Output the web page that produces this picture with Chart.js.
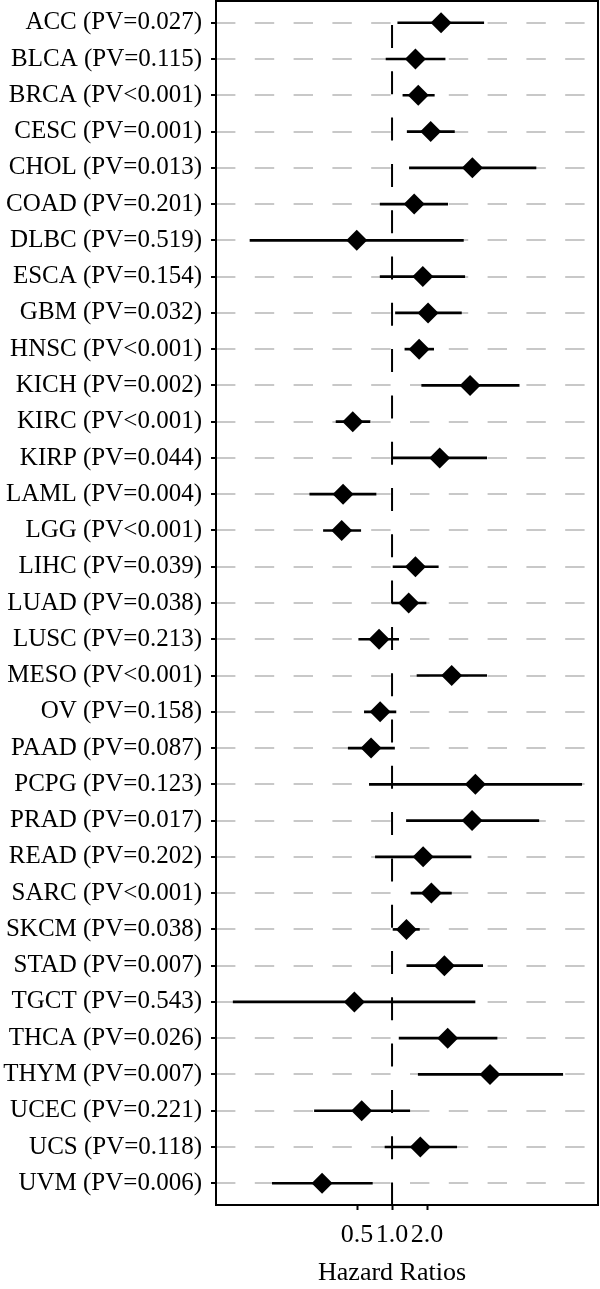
<!DOCTYPE html>
<html>
<head>
<meta charset="utf-8">
<script src="https://cdn.jsdelivr.net/npm/chart.js@4"></script>
<style>
  html, body { margin: 0; padding: 0; background: #fff; }
  #wrap { width: 600px; height: 1289px; }
</style>
</head>
<body>
<div id="wrap"><canvas id="forest" width="600" height="1289"></canvas></div>
<script>
// cancer types, top to bottom
var cancers = ['ACC', 'BLCA', 'BRCA', 'CESC', 'CHOL', 'COAD', 'DLBC', 'ESCA', 'GBM', 'HNSC',
    'KICH', 'KIRC', 'KIRP', 'LAML', 'LGG', 'LIHC', 'LUAD', 'LUSC', 'MESO', 'OV', 'PAAD',
    'PCPG', 'PRAD', 'READ', 'SARC', 'SKCM', 'STAD', 'TGCT', 'THCA', 'THYM', 'UCEC', 'UCS', 'UVM'];
var pValues = ['0.027', '0.115', '<0.001', '0.001', '0.013', '0.201', '0.519', '0.154', '0.032', '<0.001',
    '0.002', '<0.001', '0.044', '0.004', '<0.001', '0.039', '0.038', '0.213', '<0.001', '0.158', '0.087',
    '0.123', '0.017', '0.202', '<0.001', '0.038', '0.007', '0.543', '0.026', '0.007', '0.221', '0.118', '0.006'];
// hazard ratio and 95% CI
var hazardRatio = [2.64, 1.59, 1.68, 2.15, 4.91, 1.55, 0.497, 1.84, 2.04, 1.71,
    4.69, 0.459, 2.57, 0.379, 0.369, 1.59, 1.39, 0.773, 3.26, 0.79, 0.66,
    5.21, 4.88, 1.85, 2.18, 1.33, 2.82, 0.474, 3.01, 6.96, 0.548, 1.75, 0.25];
var lowerCI = [1.12, 0.888, 1.24, 1.35, 1.41, 0.79, 0.060, 0.79, 1.07, 1.29,
    1.80, 0.33, 1.0, 0.196, 0.257, 1.02, 1.0, 0.517, 1.64, 0.578, 0.42,
    0.638, 1.33, 0.719, 1.46, 1.02, 1.34, 0.043, 1.15, 1.68, 0.215, 0.87, 0.0934];
var upperCI = [6.15, 2.86, 2.31, 3.44, 17.3, 3.01, 4.11, 4.22, 3.95, 2.28,
    12.4, 0.647, 6.52, 0.728, 0.538, 2.50, 1.96, 1.14, 6.52, 1.08, 1.05,
    42.8, 18.3, 4.78, 3.24, 1.72, 6.02, 5.17, 8.0, 29.4, 1.42, 3.6, 0.677];
var xTicks = [0.5, 1.0, 2.0];
var refValue = 1;
var xTitle = 'Hazard Ratios';

var xMin = 0.0306, xMax = 59.1;
var yMin = -0.6, yMax = cancers.length - 0.4;
var serif = "'Liberation Serif', 'DejaVu Serif', serif";

function rowLabel(i) {
    var p = pValues[i];
    return cancers[i] + ' (PV' + (p.charAt(0) === '<' ? p : '=' + p) + ')';
}

// panel border drawn over everything, axis title centred under the ticks
var panelBox = {
    id: 'panelBox',
    afterDraw: function (chart) {
        var a = chart.chartArea, ctx = chart.ctx;
        ctx.save();
        ctx.strokeStyle = '#000';
        ctx.lineWidth = 2;
        ctx.strokeRect(a.left, a.top, a.right - a.left, a.bottom - a.top);
        ctx.fillStyle = '#000';
        ctx.font = '26px ' + serif;
        ctx.textAlign = 'center';
        ctx.textBaseline = 'alphabetic';
        ctx.fillText(xTitle, chart.scales.x.getPixelForValue(refValue), chart.height - 9);
        ctx.restore();
    }
};

var ctx = document.getElementById('forest').getContext('2d');
var chart = new Chart(ctx, {
    type: 'scatter',
    data: {
        datasets: [{
            // point estimates
            type: 'scatter',
            data: hazardRatio.map(function (v, i) { return { x: v, y: i }; }),
            pointStyle: 'rectRot',
            pointRadius: 10.5,
            backgroundColor: '#000',
            borderColor: '#000',
            borderWidth: 0,
            order: 0
        }, {
            // confidence intervals
            type: 'bar',
            indexAxis: 'y',
            data: lowerCI.map(function (v, i) { return { x: [v, upperCI[i]], y: i }; }),
            backgroundColor: '#000',
            barThickness: 2,
            order: 1
        }, {
            // reference line at HR = 1
            type: 'line',
            data: [{ x: refValue, y: yMin }, { x: refValue, y: yMax }],
            borderColor: '#000',
            borderWidth: 2,
            borderDash: [23, 23.3],
            borderDashOffset: 22.3,
            pointRadius: 0,
            fill: false,
            order: 2
        }]
    },
    options: {
        responsive: false,
        animation: false,
        layout: { autoPadding: false, padding: { top: 1, right: 2, left: 0, bottom: 0 } },
        plugins: { legend: { display: false }, tooltip: { enabled: false } },
        scales: {
            x: {
                type: 'logarithmic',
                min: xMin,
                max: xMax,
                offset: false,
                afterBuildTicks: function (scale) {
                    scale.ticks = xTicks.map(function (v) { return { value: v }; });
                },
                afterFit: function (scale) {
                    scale.height = 84;
                    scale.paddingLeft = 0;
                    scale.paddingRight = 0;
                },
                grid: { offset: false, drawOnChartArea: false, drawTicks: true, tickLength: 5, tickColor: '#000', tickWidth: 2 },
                border: { display: false },
                ticks: {
                    autoSkip: false,
                    maxRotation: 0,
                    padding: 10,
                    color: '#000',
                    font: { family: serif, size: 26 },
                    callback: function (v) { return Number(v).toFixed(1); }
                },
                title: { display: false }
            },
            y: {
                type: 'linear',
                reverse: true,
                min: yMin,
                max: yMax,
                offset: false,
                afterBuildTicks: function (scale) {
                    scale.ticks = cancers.map(function (c, i) { return { value: i }; });
                },
                afterFit: function (scale) {
                    scale.width = 216;
                    scale.paddingTop = 0;
                    scale.paddingBottom = 0;
                },
                grid: {
                    offset: false,
                    color: '#c8c8c8',
                    lineWidth: 2,
                    drawTicks: true,
                    tickLength: 5,
                    tickColor: '#000',
                    tickWidth: 2
                },
                border: { display: false, dash: [19.4, 19.4] },
                ticks: {
                    autoSkip: false,
                    padding: 9,
                    color: '#000',
                    font: { family: serif, size: 25 },
                    callback: function (v) { return rowLabel(v); }
                }
            }
        }
    },
    plugins: [panelBox]
});
</script>
</body>
</html>
